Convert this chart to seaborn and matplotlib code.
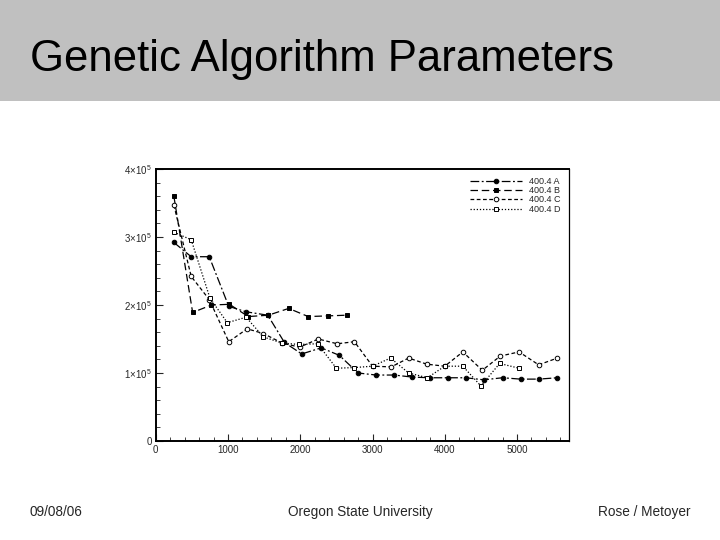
import numpy as np
import pandas as pd
import matplotlib
matplotlib.use("Agg")
import matplotlib.pyplot as plt
import matplotlib.patches as mpatches
from matplotlib.ticker import MultipleLocator, FixedLocator
import seaborn as sns

# Data (fitness values in units of 1e5)
x_a = [250, 490, 740, 1010, 1250, 1550, 1780, 2020, 2290, 2540, 2800, 3050,
       3300, 3550, 3790, 4050, 4290, 4540, 4800, 5050, 5300, 5560]
y_a = [2.92, 2.71, 2.71, 1.98, 1.90, 1.85, 1.45, 1.28, 1.37, 1.26, 1.00, 0.97,
       0.97, 0.94, 0.93, 0.93, 0.93, 0.90, 0.93, 0.91, 0.91, 0.93]

x_b = [250, 510, 770, 1020, 1280, 1560, 1840, 2110, 2380, 2640]
y_b = [3.60, 1.89, 2.00, 2.01, 1.83, 1.85, 1.95, 1.83, 1.84, 1.85]

x_c = [250, 490, 740, 1010, 1265, 1490, 1750, 1990, 2250, 2510, 2750, 3000,
       3260, 3500, 3750, 4000, 4250, 4520, 4770, 5030, 5300, 5560]
y_c = [3.47, 2.42, 2.08, 1.46, 1.65, 1.58, 1.44, 1.38, 1.50, 1.43, 1.46, 1.10,
       1.09, 1.22, 1.13, 1.10, 1.31, 1.04, 1.25, 1.31, 1.12, 1.22]

x_d = [250, 490, 750, 990, 1250, 1490, 1750, 1980, 2240, 2500, 2750, 3000,
       3250, 3500, 3760, 4000, 4250, 4500, 4760, 5030]
y_d = [3.07, 2.96, 2.10, 1.74, 1.82, 1.53, 1.44, 1.42, 1.43, 1.07, 1.08, 1.10,
       1.22, 1.00, 0.93, 1.10, 1.10, 0.81, 1.14, 1.07]

labels = ["400.4 A", "400.4 B", "400.4 C", "400.4 D"]
y_ticks = [0, 1, 2, 3, 4]
y_tick_labels = ["0", r"$1{\times}10^5$", r"$2{\times}10^5$", r"$3{\times}10^5$", r"$4{\times}10^5$"]
x_ticks = [0, 1000, 2000, 3000, 4000, 5000]

title = "Genetic Algorithm Parameters"
footer_left = "09/08/06"
footer_mid = "Oregon State University"
footer_right = "Rose / Metoyer"

sns.set_style("ticks")
plt.rcParams["font.family"] = ["Liberation Sans", "DejaVu Sans"]
plt.rcParams["mathtext.fontset"] = "custom"
plt.rcParams["mathtext.rm"] = "Liberation Sans"
plt.rcParams["mathtext.it"] = "Liberation Sans"

fig = plt.figure(figsize=(7.2, 5.4), dpi=100)
fig.patch.set_facecolor("white")

# grey title band
fig.patches.append(mpatches.Rectangle((0, 1 - 101 / 540), 1, 101 / 540,
                                      transform=fig.transFigure, facecolor="#c0c0c0",
                                      edgecolor="none", zorder=0))
fig.text(30 / 720, 1 - 60 / 540, title, fontsize=31.5, va="center", ha="left", color="black")

ax = fig.add_axes([155.8 / 720, 1 - 441 / 540, (569 - 155.8) / 720, (441 - 169) / 540])

series = [
    (x_a, y_a, dict(linestyle=(0, (7, 2, 1.5, 2)), marker="o", markerfacecolor="black")),
    (x_b, y_b, dict(linestyle=(0, (6, 3)), marker="s", markerfacecolor="black")),
    (x_c, y_c, dict(linestyle=(0, (3, 2)), marker="o", markerfacecolor="white")),
    (x_d, y_d, dict(linestyle=(0, (1, 1.5)), marker="s", markerfacecolor="white")),
]

for (xs, ys, style), lab in zip(series, labels):
    df = pd.DataFrame({"x": xs, "y": ys})
    sns.lineplot(data=df, x="x", y="y", ax=ax, color="black", linewidth=0.9,
                 markersize=3.3, markeredgecolor="black", markeredgewidth=0.7,
                 label=lab, **style)

ax.set_xlim(0, 5720)
ax.set_ylim(0, 4)
ax.xaxis.set_major_locator(FixedLocator(x_ticks))
ax.xaxis.set_minor_locator(MultipleLocator(200))
ax.yaxis.set_major_locator(FixedLocator(y_ticks))
ax.yaxis.set_minor_locator(MultipleLocator(0.2))
ax.set_yticklabels(y_tick_labels)
ax.set_xticklabels([str(t) for t in x_ticks])
ax.tick_params(which="both", direction="in", top=False, right=False, labelsize=7, pad=3)
ax.tick_params(which="major", length=5, width=0.8)
ax.tick_params(which="minor", length=3, width=0.6)
ax.set_xlabel("")
ax.set_ylabel("")
for side in ["left", "bottom", "top"]:
    ax.spines[side].set_linewidth(1.4)
ax.spines["right"].set_linewidth(0.9)
for s in ax.spines.values():
    s.set_color("black")
    s.set_visible(True)

leg = ax.legend(loc="upper right", frameon=False, fontsize=6.5, handlelength=5.8,
                labelspacing=0.02, handletextpad=0.8, borderaxespad=0.5)

fig.text(30 / 720, 1 - 512 / 540, footer_left, fontsize=9.8, va="center", ha="left")
fig.text(360 / 720, 1 - 512 / 540, footer_mid, fontsize=9.8, va="center", ha="center")
fig.text(690 / 720, 1 - 512 / 540, footer_right, fontsize=9.8, va="center", ha="right")

fig.savefig("out.png", dpi=100)
